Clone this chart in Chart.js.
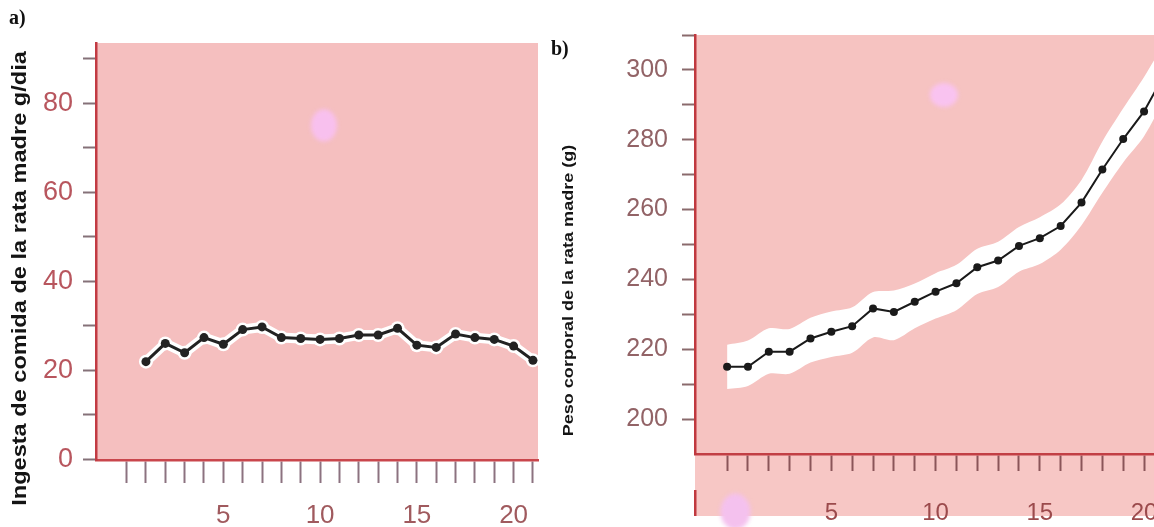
<!DOCTYPE html>
<html>
<head>
    <title>Rata madre: ingesta y peso</title>
    <style>
        body {
            margin: 0;
            background: #fff;
            width: 1154px;
            height: 527px;
            overflow: hidden;
            position: relative;
        }

        canvas {
            position: absolute;
            top: 0;
        }

        #foodChart { left: 0; }
        #weightChart { left: 560px; }

        .panel-label {
            position: absolute;
            font: bold 20px "Liberation Serif", "Times New Roman", serif;
            color: #111;
        }

        .y-title {
            position: absolute;
            white-space: nowrap;
            font-weight: bold;
            color: #141414;
            transform-origin: center;
        }
    </style>
    <script src="https://cdn.jsdelivr.net/npm/chart.js"></script>
</head>
<body>

    <canvas id="foodChart" width="560" height="527"></canvas>
    <canvas id="weightChart" width="633" height="527"></canvas>

    <div class="panel-label" style="left:9px; top:6px;">a)</div>
    <div class="panel-label" style="left:551px; top:37px;">b)</div>

    <div class="y-title" data-cx="20" data-cy="278" data-len="455"
         style="font-family:'Liberation Sans', Arial, sans-serif; font-size:20px;">Ingesta de comida de la rata madre g/dia</div>
    <div class="y-title" data-cx="567" data-cy="290" data-len="292"
         style="font-family:'Liberation Sans Narrow', 'Liberation Sans', Arial, sans-serif; font-size:15px;">Peso corporal de la rata madre (g)</div>

    <script>
        // a) food intake, days 1..21
        const foodDays = [1, 2, 3, 4, 5, 6, 7, 8, 9, 10, 11, 12, 13, 14, 15, 16, 17, 18, 19, 20, 21];
        const foodIntake = [21.9, 26.0, 23.9, 27.3, 25.8, 29.1, 29.7, 27.3, 27.1, 26.9, 27.1,
                            27.9, 27.9, 29.4, 25.6, 25.1, 28.1, 27.3, 26.9, 25.4, 22.2];
        const foodXTicks = [0, 1, 2, 3, 4, 5, 6, 7, 8, 9, 10, 11, 12, 13, 14, 15, 16, 17, 18, 19, 20, 21];
        const foodYTicks = [0, 10, 20, 30, 40, 50, 60, 70, 80, 90];
        const foodYLabels = [0, 20, 40, 60, 80];

        // b) body weight, days 0..21 (last point runs off the picture)
        const weightDays = [0, 1, 2, 3, 4, 5, 6, 7, 8, 9, 10, 11, 12, 13, 14, 15, 16, 17, 18, 19, 20, 21];
        const bodyWeight = [215.0, 215.0, 219.3, 219.3, 223.1, 225.0, 226.6, 231.7, 230.7, 233.6, 236.5,
                            238.9, 243.5, 245.4, 249.6, 251.8, 255.3, 262.0, 271.5, 280.2, 288.1, 299.0];
        const weightUpper = [221.3, 222.5, 226.0, 225.8, 229.0, 230.8, 232.0, 236.4, 236.8, 238.8, 241.8,
                             244.2, 248.8, 250.8, 255.0, 257.8, 261.5, 268.5, 279.5, 289.0, 298.0, 308.0];
        const weightLower = [208.6, 209.5, 213.0, 213.0, 216.2, 217.8, 219.0, 223.4, 222.6, 226.0, 228.8,
                             231.2, 235.8, 237.8, 242.2, 244.4, 248.5, 255.5, 264.8, 273.5, 281.0, 292.0];
        const weightXTicks = [0, 1, 2, 3, 4, 5, 6, 7, 8, 9, 10, 11, 12, 13, 14, 15, 16, 17, 18, 19, 20, 21];
        const weightYTicks = [200, 210, 220, 230, 240, 250, 260, 270, 280, 290, 300, 310];
        const weightYLabels = [200, 220, 240, 260, 280, 300];

        const xLabels = [5, 10, 15, 20];
        const sans = '"Liberation Sans", Arial, Helvetica, sans-serif';

        const toPoints = (xs, ys) => xs.map((x, i) => ({ x: x, y: ys[i] }));

        // pink plot area, optional strip under the x axis, and the faint magenta stains
        const plotBackground = {
            id: 'plotBackground',
            beforeDraw(chart, args, opts) {
                const { ctx, chartArea: a, scales } = chart;
                ctx.save();
                ctx.fillStyle = opts.color;
                ctx.fillRect(a.left, a.top, a.right - a.left, a.bottom - a.top);
                if (opts.below) {
                    ctx.fillStyle = opts.below;
                    ctx.fillRect(a.left, a.bottom, chart.width - a.left, opts.belowHeight);
                    ctx.fillStyle = opts.axisColor;
                    ctx.fillRect(a.left - 1, a.bottom + 36, 2.5, opts.belowHeight - 36);
                }
                ctx.filter = 'blur(2px)';
                (opts.spots || []).forEach(s => {
                    ctx.fillStyle = s.color;
                    ctx.beginPath();
                    ctx.ellipse(scales.x.getPixelForValue(s.x), scales.y.getPixelForValue(s.y),
                                s.rx, s.ry, 0, 0, Math.PI * 2);
                    ctx.fill();
                });
                ctx.restore();
            }
        };

        new Chart(document.getElementById('foodChart'), {
            type: 'line',
            data: {
                datasets: [{
                    data: toPoints(foodDays, foodIntake),
                    borderColor: '#222',
                    borderWidth: 3,
                    pointRadius: 4.5,
                    pointBackgroundColor: '#222',
                    pointBorderWidth: 0
                }, {
                    // white halo under the line
                    data: toPoints(foodDays, foodIntake),
                    borderColor: '#fff',
                    borderWidth: 10,
                    pointRadius: 7,
                    pointBackgroundColor: '#fff',
                    pointBorderWidth: 0
                }]
            },
            options: {
                responsive: false,
                animation: false,
                devicePixelRatio: 1,
                layout: { padding: { top: 43, right: 22, left: 0, bottom: 0 } },
                plugins: {
                    legend: { display: false },
                    tooltip: { enabled: false },
                    plotBackground: {
                        color: '#f5bfbf',
                        spots: [{ x: 10.2, y: 75, rx: 13, ry: 16, color: '#f8c0ee' }]
                    }
                },
                scales: {
                    x: {
                        type: 'linear',
                        min: -1.58,
                        max: 21.26,
                        afterBuildTicks: s => { s.ticks = foodXTicks.map(v => ({ value: v })); },
                        afterFit: s => { s.height = 67; },
                        grid: { drawOnChartArea: false, tickLength: 23, tickColor: '#8c7280', tickWidth: 2 },
                        border: { color: '#c9464c', width: 2.5 },
                        ticks: {
                            autoSkip: false,
                            maxRotation: 0,
                            padding: 17,
                            color: '#a05a5e',
                            font: { family: sans, size: 26 },
                            callback: v => xLabels.includes(v) ? String(v) : ''
                        }
                    },
                    y: {
                        min: -0.2,
                        max: 93.5,
                        afterBuildTicks: s => { s.ticks = foodYTicks.map(v => ({ value: v })); },
                        afterFit: s => { s.width = 96; },
                        grid: { drawOnChartArea: false, tickLength: 13, tickColor: '#857178', tickWidth: 2 },
                        border: { color: '#c23b43', width: 2.5 },
                        ticks: {
                            padding: 10,
                            color: '#b8565e',
                            font: { family: sans, size: 27 },
                            callback: v => foodYLabels.includes(v) ? String(v) : ''
                        }
                    }
                }
            },
            plugins: [plotBackground]
        });

        new Chart(document.getElementById('weightChart'), {
            type: 'line',
            data: {
                datasets: [{
                    data: toPoints(weightDays, bodyWeight),
                    borderColor: '#1a1a1a',
                    borderWidth: 2,
                    pointRadius: 4,
                    pointBackgroundColor: '#1a1a1a',
                    pointBorderWidth: 0
                }, {
                    data: toPoints(weightDays, weightUpper),
                    borderWidth: 0,
                    pointRadius: 0,
                    tension: 0.3,
                    backgroundColor: '#ffffff',
                    fill: '+1'
                }, {
                    data: toPoints(weightDays, weightLower),
                    borderWidth: 0,
                    pointRadius: 0,
                    tension: 0.3
                }]
            },
            options: {
                responsive: false,
                animation: false,
                devicePixelRatio: 1,
                layout: { padding: { top: 35, right: 0, left: 0, bottom: 0 } },
                plugins: {
                    legend: { display: false },
                    tooltip: { enabled: false },
                    plotBackground: {
                        color: '#f6c3c1',
                        below: '#f7c7c5',
                        belowHeight: 62,
                        axisColor: '#c0393f',
                        spots: [
                            { x: 10.4, y: 292.8, rx: 14, ry: 12, color: '#f9c3f0' },
                            { x: 0.4, y: 173.5, rx: 15, ry: 18, color: '#f4c1ee' }
                        ]
                    }
                },
                scales: {
                    x: {
                        type: 'linear',
                        min: -1.54,
                        max: 21.54,
                        afterBuildTicks: s => { s.ticks = weightXTicks.map(v => ({ value: v })); },
                        afterFit: s => { s.height = 73; },
                        grid: { drawOnChartArea: false, tickLength: 17, tickColor: '#8a5559', tickWidth: 2 },
                        border: { color: '#c23f45', width: 2.5 },
                        ticks: {
                            autoSkip: false,
                            maxRotation: 0,
                            padding: 28,
                            color: '#9b4a4c',
                            font: { family: sans, size: 24 },
                            callback: v => xLabels.includes(v) ? String(v) : ''
                        }
                    },
                    y: {
                        min: 190,
                        max: 310,
                        afterBuildTicks: s => { s.ticks = weightYTicks.map(v => ({ value: v })); },
                        afterFit: s => { s.width = 135; },
                        grid: { drawOnChartArea: false, tickLength: 13, tickColor: '#8a6a6c', tickWidth: 2 },
                        border: { color: '#c0393f', width: 2.5 },
                        ticks: {
                            padding: 14,
                            color: '#926366',
                            font: { family: sans, size: 25 },
                            callback: v => weightYLabels.includes(v) ? String(v) : ''
                        }
                    }
                }
            },
            plugins: [plotBackground]
        });

        // rotate the axis titles and stretch them to the length they have in the figure
        document.querySelectorAll('.y-title').forEach(el => {
            const w = el.offsetWidth, h = el.offsetHeight;
            const sx = el.dataset.len / w;
            el.style.left = (el.dataset.cx - w / 2) + 'px';
            el.style.top = (el.dataset.cy - h / 2) + 'px';
            el.style.transform = 'rotate(-90deg) scaleX(' + sx + ')';
        });
    </script>

</body>
</html>
